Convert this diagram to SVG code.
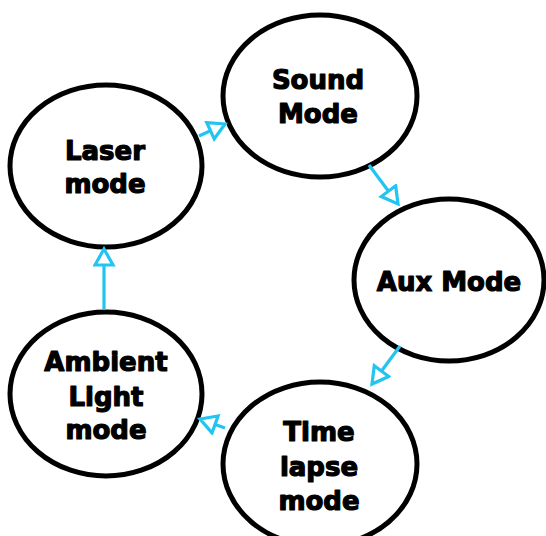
<svg xmlns="http://www.w3.org/2000/svg" width="546" height="536" viewBox="0 0 546 536">
  <style>
    .node ellipse { fill: #ffffff; stroke: #000000; stroke-width: 5; }
    .node text { font-family: "DejaVu Sans", "Liberation Sans", sans-serif; font-weight: bold; font-size: 26px; fill: #000000; stroke: #000000; stroke-width: 1.2; stroke-linejoin: round; text-anchor: middle; }
    .edge { stroke: #22c4f2; stroke-width: 3.2; fill: none; marker-end: url(#hollow); }
  </style>
  <defs>
    <marker id="hollow" markerUnits="userSpaceOnUse" markerWidth="24" markerHeight="24" viewBox="0 0 24 24" refX="18" refY="11" orient="auto">
      <path d="M2,2 L18,11 L2,20 Z" fill="#ffffff" stroke="#22c4f2" stroke-width="3.2" stroke-linejoin="miter"/>
    </marker>
  </defs>

  <rect width="546" height="536" fill="#ffffff"/>

  <g id="laser-mode" class="node">
    <ellipse cx="106" cy="166" rx="96" ry="81"/>
    <text x="105" y="160">Laser</text>
    <text x="105" y="193">mode</text>
  </g>

  <g id="sound-mode" class="node">
    <ellipse cx="320" cy="96" rx="97" ry="81"/>
    <text x="318" y="89">Sound</text>
    <text x="318" y="123">Mode</text>
  </g>

  <g id="aux-mode" class="node">
    <ellipse cx="449" cy="280" rx="95" ry="81"/>
    <text x="449" y="291">Aux Mode</text>
  </g>

  <g id="time-lapse-mode" class="node">
    <ellipse cx="320" cy="464" rx="97" ry="82"/>
    <text x="319" y="441">Time</text>
    <text x="319" y="476">lapse</text>
    <text x="319" y="510">mode</text>
  </g>

  <g id="ambient-light-mode" class="node">
    <ellipse cx="106" cy="394" rx="96" ry="82"/>
    <text x="106" y="371">Ambient</text>
    <text x="106" y="406">Light</text>
    <text x="106" y="439">mode</text>
  </g>

  <g id="connectors">
    <line class="edge" x1="199" y1="136" x2="225" y2="124"/>
    <line class="edge" x1="369" y1="165" x2="398" y2="204"/>
    <line class="edge" x1="400" y1="346" x2="372" y2="384"/>
    <line class="edge" x1="225" y1="428" x2="200" y2="419"/>
    <line class="edge" x1="104" y1="310" x2="104" y2="249"/>
  </g>
</svg>
